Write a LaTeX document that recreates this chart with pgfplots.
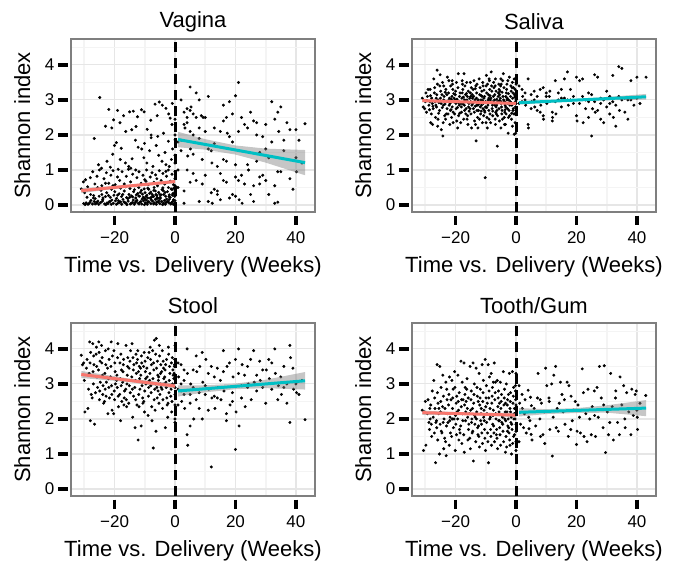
\documentclass[border=0pt]{standalone}
\usepackage{fontspec}
\setmainfont{Liberation Sans}
\usepackage{pgfplots}
\pgfplotsset{compat=1.18}

\definecolor{fitred}{HTML}{F8766D}
\definecolor{fitteal}{HTML}{00BFC4}
\definecolor{gridmaj}{HTML}{E6E6E6}
\definecolor{gridmin}{HTML}{F4F4F4}
\definecolor{border}{HTML}{7F7F7F}

\pgfplotsset{
  panel/.style={
    scale only axis, width=244pt, height=173pt,
    xmin=-34.4, xmax=46.3, ymin=-0.2, ymax=4.74,
    clip mode=individual,
    axis line style={draw=border, line width=1.1pt},
    xtick={-20,0,20,40}, xticklabels={−20,0,20,40},
    ytick={0,1,2,3,4}, yticklabels={0,1,2,3,4},
    minor xtick={-30,-10,10,30}, minor ytick={0.5,1.5,2.5,3.5,4.5},
    grid=both,
    major grid style={draw=gridmaj, line width=1.1pt},
    minor grid style={draw=gridmin, line width=1.8pt},
    tick align=inside, major tick length=0pt, minor tick length=0pt,
    xtick pos=bottom, ytick pos=left,
    every tick/.style={draw=none},
    /pgf/number format/assume math mode=true,
    tick label style={font=\fontsize{17}{19}\selectfont, inner sep=0pt},
    xticklabel style={anchor=north, yshift=-19.5pt},
    yticklabel style={anchor=east, xshift=-16.5pt},
    label style={font=\fontsize{22}{26}\selectfont},
    xlabel={Time vs. Delivery (Weeks)},
    ylabel={Shannon index},
    xlabel style={at={(axis description cs:0.5,-0.315)}, anchor=center},
    ylabel style={at={(axis description cs:-0.20,0.5)}, anchor=center},
    title style={font=\fontsize{22}{26}\selectfont, at={(axis description cs:0.5,1.065)}, anchor=center},
    % ggplot-style bold ticks, set slightly away from the panel border
    after end axis/.append code={
      \foreach \tk in {-20,0,20,40} {
        \draw[black, line width=3.8pt, line cap=butt] ([yshift=-3.5pt]axis cs:\tk,-0.2) -- ++(0,-9.5pt);
      }
      \foreach \tk in {0,1,2,3,4} {
        \draw[black, line width=3.8pt, line cap=butt] ([xshift=-3.5pt]axis cs:-34.4,\tk) -- ++(-9.5pt,0);
      }
    },
  },
  pts/.style={only marks, mark=*, mark size=1.3pt, black},
  band/.style={fill=gray, fill opacity=0.45, draw=none, forget plot},
  fitpre/.style={fitred, line width=3pt},
  fitpost/.style={fitteal, line width=3pt},
  vline/.style={black, line width=3pt, dash pattern=on 10pt off 6pt},
}

\begin{document}
\begin{tikzpicture}
\useasboundingbox (0,0) rectangle (680pt,-560pt);

% ---------------- Vagina ----------------
\begin{axis}[panel, at={(71pt,-212pt)}, anchor=south west, title={Vagina}]
\addplot[pts] coordinates {
(-30.2,0.04) (-29.4,0.06) (-28.8,0.02) (-28.1,0.08) (-27.3,0.03) (-26.7,0.1) (-26.0,0.05) (-25.2,0.02) (-24.6,0.07) (-24.0,0.11)
(-23.3,0.03) (-22.5,0.06) (-21.8,0.09) (-21.1,0.02) (-20.4,0.05) (-19.7,0.12) (-19.0,0.04) (-18.3,0.07) (-17.6,0.02) (-16.9,0.09)
(-16.2,0.05) (-15.5,0.11) (-14.8,0.03) (-14.1,0.07) (-13.5,0.02) (-12.9,0.1) (-12.2,0.05) (-11.6,0.08) (-11.0,0.03) (-10.4,0.12)
(-9.8,0.06) (-9.2,0.02) (-8.6,0.09) (-8.0,0.04) (-7.4,0.11) (-6.8,0.06) (-6.2,0.02) (-5.6,0.08) (-5.0,0.04) (-4.4,0.1)
(-3.8,0.05) (-3.2,0.02) (-2.6,0.09) (-2.0,0.06) (-1.4,0.03) (-0.8,0.1) (-0.2,0.05) (0,0.12) (-27.8,0.13) (-23.9,0.15)
(-20.9,0.14) (-17.2,0.16) (-13.8,0.14) (-10.9,0.17) (-7.9,0.15) (-4.9,0.18) (-1.9,0.16) (-15.9,0.01) (-9.5,0.14) (-3.5,0.13)
(-29.7,0.01) (-26.4,0.03) (-22.9,0.01) (-19.4,0.02) (-16.6,0.07) (-13.2,0.06) (-10.1,0.01) (-7.1,0.03) (-4.1,0.01) (-1.1,0.07)
(-25.5,0.11) (-21.5,0.1) (-18.7,0.12) (-12.6,0.13) (-8.9,0.1) (-5.3,0.12) (-2.3,0.11) (-0.5,0.15) (-6.5,0.16) (-11.3,0.1)
(-28.5,0.04) (-25.8,0.08) (-22.2,0.04) (-18.0,0.09) (-14.5,0.05) (-11.9,0.03) (-9.0,0.07) (-6.0,0.09) (-3.0,0.07) (-0.6,0.02)
(-27.0,0.2) (-23.0,0.24) (-19.0,0.28) (-15.0,0.22) (-12.0,0.26) (-9.0,0.2) (-7.8,0.22) (-5.0,0.3) (-2.0,0.24) (-0.3,0.32)
(-13.4,0.44) (-10.2,0.46) (-7.0,0.42) (-3.9,0.41) (-1.0,0.44) (0,0.55) (-16.3,0.52) (-20.5,0.55) (-25.6,0.5) (-29.9,0.35)
(-29.1,0.22) (-27.9,0.3) (-26.4,0.18) (-25.1,0.25) (-23.8,0.2) (-22.6,0.35) (-21.4,0.22) (-20.2,0.28) (-19.3,0.19) (-18.5,0.32)
(-17.7,0.24) (-16.8,0.4) (-16.0,0.21) (-15.2,0.3) (-14.4,0.26) (-13.7,0.38) (-13.0,0.2) (-12.3,0.33) (-11.7,0.25) (-11.1,0.42)
(-10.5,0.22) (-9.9,0.35) (-9.3,0.28) (-8.7,0.45) (-8.2,0.2) (-7.6,0.31) (-7.1,0.24) (-6.5,0.4) (-6.0,0.27) (-5.4,0.36)
(-4.9,0.22) (-4.3,0.44) (-3.7,0.3) (-3.1,0.25) (-2.5,0.38) (-1.9,0.29) (-1.3,0.46) (-0.7,0.33) (-0.1,0.25) (0,0.4)
(-24.5,0.42) (-21.0,0.45) (-18.0,0.48) (-14.9,0.47) (-12.0,0.5) (-9.0,0.48) (-6.9,0.5) (-4.0,0.49) (-2.2,0.5) (-0.4,0.48)
(-19.9,0.38) (-15.6,0.18) (-10.0,0.18) (-5.7,0.19) (-2.8,0.17) (-8.0,0.37) (-11.5,0.36) (-26.9,0.27) (-6.3,0.3)
(-14.0,0.23) (-12.8,0.29) (-10.8,0.31) (-9.6,0.24) (-8.4,0.33) (-7.3,0.27) (-5.9,0.21) (-4.6,0.29) (-3.3,0.36) (-1.6,0.22)
(-0.9,0.28) (-17.3,0.3) (-22.0,0.27) (-24.2,0.3)
(-31.0,0.46) (-30.3,0.66) (-29.6,0.72) (-28.9,0.52) (-28.0,0.78) (-27.2,0.95) (-26.5,0.6) (-25.8,0.82) (-25.0,1.0) (-24.2,0.55)
(-23.5,0.75) (-22.7,0.92) (-21.9,0.62) (-21.2,0.85) (-20.5,0.98) (-19.8,0.58) (-19.0,0.8) (-18.3,0.7) (-17.5,0.95) (-16.8,0.6)
(-16.1,0.82) (-15.4,1.02) (-14.7,0.66) (-14.0,0.88) (-13.3,0.55) (-12.6,0.78) (-11.9,0.95) (-11.2,0.62) (-10.6,0.85) (-10.0,0.72)
(-9.4,1.0) (-8.8,0.58) (-8.2,0.8) (-7.6,0.92) (-7.0,0.65) (-6.4,0.86) (-5.8,0.55) (-5.2,0.98) (-4.6,0.7) (-4.0,0.9)
(-3.4,0.6) (-2.8,0.82) (-2.2,1.0) (-1.6,0.68) (-1.0,0.88) (-0.5,0.58) (0,0.75) (0,0.95) (-13.0,1.0) (-18.8,1.02)
(-23.0,0.62) (-9.6,0.68) (-6.0,0.75) (-3.0,0.96)
(-26.7,1.9) (-24.3,1.05) (-22.5,1.25) (-20.6,1.45) (-20.0,1.7) (-19.4,1.78) (-17.8,1.62) (-16.4,1.2) (-15.3,1.1) (-14.2,1.32)
(-13.1,1.85) (-12.2,1.65) (-11.0,1.6) (-10.3,1.35) (-9.3,1.2) (-8.4,1.55) (-7.3,1.1) (-6.2,1.7) (-5.4,1.42) (-4.3,1.25)
(-3.3,1.5) (-2.2,1.82) (-1.2,1.3) (0,1.42) (-21.4,1.08) (-18.1,1.3) (-7.9,1.92) (-5.7,1.96) (-3.0,1.15) (-0.8,1.6)
(0,1.86) (-1.9,1.1) (-10.1,1.76) (-25.3,1.15) (0,1.2) (-14.6,1.05)
(-24.9,3.07) (-23.0,2.25) (-21.9,2.73) (-20.3,2.43) (-19.0,2.7) (-18.2,2.35) (-16.3,2.1) (-15.0,2.66) (-13.8,2.68) (-12.9,2.24)
(-11.1,2.72) (-10.2,2.66) (-9.2,2.16) (-8.0,2.42) (-6.6,2.88) (-5.9,2.55) (-5.2,2.94) (-4.2,2.85) (-3.0,2.76) (-2.1,2.6)
(-1.0,2.3) (0,2.45) (-17.0,2.55) (-12.4,2.52) (-3.8,2.05) (-0.9,2.9) (-20.9,2.2) (-7.9,2.0) (-14.3,2.15) (0,2.0) (-1.6,2.48)
};
\addplot[pts] coordinates {
(2,3.0) (3,2.65) (4,2.5) (5,3.37) (5.3,2.8) (6,2.6) (7,3.2) (8,3.0) (8.7,2.55) (9.3,2.5)
(11,3.1) (10,2.1) (13,2.2) (16,2.85) (17,2.5) (18,2.95) (20,3.12) (21,3.5) (22,2.5) (23,2.3)
(24,2.2) (25,2.65) (26,2.4) (27,2.35) (29,1.95) (32,2.95) (33,2.45) (34,2.65) (35,2.8) (34.3,2.1)
(36,1.85) (38,2.15) (40,2.15) (43,2.32) (40,1.35) (40.2,0.95) (38,0.75) (39,0.45) (34,0.95) (33,0.05)
(34,0.08) (30,1.6) (31,0.3) (29,0.85) (28,0.6) (26,0.1) (25,0.3) (23,0.6) (22,0.85) (21,0.7)
(20,0.8) (22.2,0.05) (21.2,0.15) (19,0.3) (18,0.2) (17,0.65) (16,0.7) (15,0.15) (14,0.3) (13,0.45)
(12,0.35) (12.3,0.05) (11,0.1) (10,0.85) (9,0.6) (8,0.1) (7,0.7) (5,0.65) (4,1.0) (3,0.05)
(2,1.55) (4.2,1.4) (5.1,1.6) (6,1.45) (8,1.9) (9,1.3) (12,1.55) (12.2,1.2) (13,1.75) (14,0.4)
(16,1.3) (17,1.25) (18,1.95) (17.3,2.05) (19,1.8) (20,1.15) (24,1.15) (24.3,1.0) (27,1.25) (28,0.8)
(30,0.7) (33,0.55) (35,0.95) (36,1.55) (31,1.35) (2,1.85) (3,2.3) (4,2.35) (5,2.1) (6,2.0)
(3.3,2.2) (4,2.75) (5,2.7) (1,1.0) (1,0.5) (1,1.8) (7,2.5) (8,2.2) (10,2.5) (15,2.1)
(16,2.4) (19,2.6) (21,2.1) (27,2.0) (28,1.5) (30,2.3) (32,1.8) (37,2.35) (42,1.2) (41,1.85)
(15,0.9) (11,1.6) (6,0.9) (3,0.4) (14,1.1) (26,0.55) (20,0.25)
};
\addplot[band] coordinates {(-31,0.34) (-20,0.462) (-12,0.534) (-5,0.588) (0,0.62) (0,0.72) (-5,0.668) (-12,0.604) (-20,0.542) (-31,0.48)};
\addplot[band] coordinates {(1,1.65) (10,1.58) (20,1.44) (30,1.21) (43,0.85) (43,1.57) (30,1.61) (20,1.70) (10,1.88) (1,2.09)};
\addplot[fitpre] coordinates {(-31,0.41) (0,0.67)};
\addplot[fitpost] coordinates {(1,1.87) (43,1.21)};
\addplot[vline] coordinates {(0,-0.2) (0,4.74)};
\end{axis}

% ---------------- Saliva ----------------
\begin{axis}[panel, at={(412pt,-212pt)}, anchor=south west, title={Saliva}]
\addplot[pts] coordinates {
(-31.0,3.05) (-30.7,2.8) (-30.2,2.75) (-29.8,3.2) (-30.0,2.95) (-29.1,3.3) (-28.8,2.85) (-29.3,3.1) (-28.6,2.72)
(-28.2,2.35) (-27.9,3.05) (-28.4,3.3) (-27.7,2.9) (-28.0,2.6) (-27.2,3.6) (-26.8,2.95) (-27.0,3.2) (-26.6,2.5) (-27.4,2.75) (-26.9,3.35)
(-26.1,3.85) (-25.8,3.0) (-26.3,2.8) (-25.9,2.25) (-26.0,3.45) (-25.6,2.62) (-26.2,3.15)
(-25.2,3.4) (-24.8,2.9) (-25.0,3.05) (-24.7,2.15) (-25.3,2.7) (-24.9,3.25) (-25.1,3.72)
(-24.2,1.97) (-23.8,3.1) (-24.0,2.85) (-23.6,2.55) (-24.3,3.5) (-23.9,3.0) (-24.1,2.35)
(-23.2,3.3) (-22.8,2.75) (-23.0,2.95) (-22.7,3.65) (-23.3,2.45) (-22.9,3.15) (-23.1,2.6)
(-22.2,3.55) (-21.8,2.9) (-22.0,3.05) (-21.7,2.7) (-22.3,3.2) (-21.9,2.3) (-22.1,2.85) (-21.6,3.4)
(-21.2,3.1) (-20.8,2.65) (-21.0,3.45) (-20.7,2.95) (-21.3,2.5) (-20.9,3.3) (-21.1,2.8)
(-20.2,3.0) (-19.8,2.75) (-20.0,3.25) (-19.7,3.5) (-20.3,2.6) (-19.9,2.9) (-20.1,3.15) (-19.6,2.4)
(-19.2,3.35) (-18.8,2.85) (-19.0,2.55) (-18.7,3.1) (-19.3,2.2) (-18.9,2.95) (-19.1,3.75)
(-18.2,2.9) (-17.8,3.2) (-18.0,2.65) (-17.7,3.45) (-18.3,2.35) (-17.9,3.05) (-18.1,2.8) (-17.6,3.3)
(-17.2,3.75) (-16.8,2.95) (-17.0,2.7) (-16.7,3.15) (-17.3,2.45) (-16.9,3.4) (-17.1,2.85) (-16.6,2.6)
(-16.2,3.0) (-15.8,3.25) (-16.0,2.55) (-15.7,2.8) (-16.3,3.5) (-15.9,2.3) (-16.1,3.1) (-15.6,2.9)
(-15.2,2.75) (-14.8,3.35) (-15.0,2.95) (-14.7,2.2) (-15.3,3.05) (-14.9,2.6) (-15.1,3.2) (-14.6,2.85)
(-14.2,3.3) (-13.8,2.65) (-14.0,3.1) (-13.7,2.4) (-14.3,2.9) (-13.9,3.55) (-14.1,2.75) (-13.6,3.0)
(-13.2,1.83) (-12.8,2.95) (-13.0,3.2) (-12.7,2.5) (-13.3,3.4) (-12.9,2.7) (-13.1,3.05) (-12.6,2.85) (-13.4,2.3)
(-12.2,3.6) (-11.8,2.8) (-12.0,3.15) (-11.7,2.6) (-12.3,2.95) (-11.9,3.35) (-12.1,2.45) (-11.6,3.0) (-12.4,2.7)
(-11.2,3.1) (-10.8,2.9) (-11.0,3.5) (-10.7,2.55) (-11.3,3.25) (-10.9,2.75) (-11.1,2.35) (-10.6,3.05) (-11.4,2.85)
(-10.2,0.78) (-9.8,3.7) (-10.0,2.95) (-9.7,3.2) (-10.3,2.65) (-9.9,3.4) (-10.1,2.8) (-9.6,2.5) (-10.4,3.1) (-9.5,2.2)
(-9.2,3.0) (-8.8,3.55) (-9.0,2.7) (-8.7,3.3) (-9.3,2.9) (-8.9,2.45) (-9.1,3.15) (-8.6,2.6) (-9.4,3.45)
(-8.2,3.8) (-7.8,2.85) (-8.0,3.25) (-7.7,2.55) (-8.3,3.05) (-7.9,2.75) (-8.1,3.4) (-7.6,2.95) (-8.4,2.35)
(-7.2,2.9) (-6.8,3.6) (-7.0,3.15) (-6.7,2.65) (-7.3,3.35) (-6.9,2.45) (-7.1,3.0) (-6.6,2.8) (-7.4,3.5) (-6.5,2.6)
(-6.2,1.68) (-5.8,3.2) (-6.0,2.95) (-5.7,3.45) (-6.3,2.7) (-5.9,3.1) (-6.1,2.55) (-5.6,3.3) (-6.4,2.85) (-5.5,2.4)
(-5.2,3.05) (-4.8,2.8) (-5.0,3.6) (-4.7,2.6) (-5.3,3.25) (-4.9,2.9) (-5.1,3.4) (-4.6,2.7) (-5.4,3.15)
(-4.2,3.75) (-3.8,2.95) (-4.0,3.35) (-3.7,2.65) (-4.3,3.1) (-3.9,2.5) (-4.1,3.0) (-3.6,2.85) (-4.4,3.55) (-3.5,2.3)
(-3.2,3.2) (-2.8,2.75) (-3.0,3.45) (-2.7,2.9) (-3.3,2.6) (-2.9,3.05) (-3.1,3.3) (-2.6,2.05) (-3.4,2.8)
(-2.2,3.65) (-1.8,3.1) (-2.0,2.85) (-1.7,3.4) (-2.3,2.7) (-1.9,2.95) (-2.1,2.55) (-1.6,3.25) (-2.4,3.0)
(-1.2,3.5) (-0.8,2.9) (-1.0,3.2) (-0.7,2.6) (-1.3,3.35) (-0.9,2.75) (-1.1,3.05) (-0.6,2.02) (-1.4,2.85) (-0.5,3.15) (-1.5,2.45)
(0,3.45) (-0.2,3.1) (0,2.9) (-0.3,3.3) (0,2.7) (-0.1,2.05) (0,3.0) (-0.4,2.6) (0,3.2) (-0.2,2.8) (0,3.5) (-0.1,2.95)
(-23.5,2.88) (-21.4,3.02) (-19.4,2.78) (-17.4,3.08) (-15.4,2.92) (-13.5,2.82) (-11.5,3.12) (-9.3,2.85) (-7.5,3.1) (-5.5,2.98)
(-3.4,3.1) (-1.6,2.92) (-0.8,3.35) (-2.5,2.5) (-4.5,2.45) (-6.6,3.25) (-8.5,3.0) (-10.5,2.7) (-12.5,3.0) (-14.5,3.15)
(-16.5,2.75) (-18.5,3.2) (-20.5,3.05) (-22.5,2.6) (-24.5,3.15) (-26.5,2.85) (-28.5,2.95) (-0.3,2.35) (-0.6,3.6) (-5.0,2.2)
(-29.5,2.98) (-28.3,3.12) (-27.5,2.82) (-26.4,3.05) (-25.5,2.92) (-24.4,2.78) (-23.4,3.22) (-22.4,2.98) (-21.5,2.72) (-20.6,3.18)
(-19.5,3.02) (-18.6,2.62) (-17.5,2.88) (-16.4,3.18) (-15.5,2.68) (-14.4,3.05) (-13.5,3.32) (-12.4,2.88) (-11.5,2.68) (-10.6,3.28)
(-9.7,2.78) (-8.6,3.12) (-7.7,2.68) (-6.4,3.02) (-5.6,2.75) (-4.6,3.22) (-3.6,2.72) (-2.5,3.18) (-1.4,2.62) (-0.4,3.08)
(-9.0,3.05) (-7.0,2.85) (-5.0,2.95) (-3.0,3.0) (-1.0,2.7) (-11.0,2.98) (-13.0,2.85) (-15.0,3.1) (-17.0,3.0) (-19.0,2.92)
(-2.7,3.55) (-4.9,3.45) (-6.9,3.4) (-8.9,3.6) (-10.9,3.4) (-12.9,3.45) (-15.1,3.5) (-17.8,3.55) (-21.1,3.55) (-23.9,3.4)
(-1.2,2.25) (-3.8,2.3) (-6.8,2.3) (-9.9,2.35) (-12.6,2.2) (-16.2,2.45) (-20.8,2.35) (-25.8,2.45) (-27.6,2.3) (-29.6,2.65)
};
\addplot[pts] coordinates {
(1,3.4) (1,2.9) (2,3.3) (2.2,3.1) (2,2.95) (3,3.0) (3.2,2.85) (4,3.6) (4,2.3) (4.1,2.2)
(5,3.15) (5,2.75) (5.2,2.95) (6,3.0) (6.2,2.8) (7,3.1) (7,2.7) (8,3.3) (8.2,2.85) (8,2.65)
(9,3.35) (9,2.55) (9.1,2.45) (10,3.1) (10.2,2.9) (11,3.1) (11.2,3.25) (12,2.65) (12.1,2.5) (12,2.4)
(13,3.55) (13,2.95) (13.2,2.6) (14,3.2) (14,3.0) (15,3.3) (15,2.8) (16,3.6) (16,3.05) (17,3.8)
(17,3.0) (17.3,2.85) (18,3.3) (18,3.0) (19,2.9) (20,3.65) (20,2.55) (20.2,2.4) (21,3.55) (21,2.9)
(22,3.6) (22,3.1) (22.2,2.35) (23,3.0) (23,2.75) (24,2.95) (24,2.5) (25,3.15) (25,1.97) (25.3,2.75)
(26,3.72) (26,2.95) (26.2,2.65) (27,3.65) (27,2.7) (28,3.05) (28,2.45) (29,3.0) (29,2.35) (30,3.25)
(30,2.8) (31,3.1) (31,2.6) (32,3.7) (32,2.95) (32.2,2.5) (33,2.85) (33,2.25) (34,3.95) (34,3.1)
(34.2,2.7) (35,3.9) (35,3.0) (36,3.05) (36,2.65) (37,2.45) (38,3.55) (38,3.0) (39,2.85) (40,3.65)
(40,3.05) (41,2.9) (43,3.65) (3,3.2) (6,3.25) (10,3.2) (15,3.05) (19,3.1) (24,3.2) (28,2.9)
(31,2.9) (37,3.0)
};
\addplot[band] coordinates {(-31,2.94) (-15,2.92) (0,2.87) (0,2.93) (-15,2.96) (-31,3.02)};
\addplot[band] coordinates {(1,2.87) (20,2.97) (43,3.01) (43,3.17) (20,3.02) (1,2.97)};
\addplot[fitpre] coordinates {(-31,2.98) (0,2.90)};
\addplot[fitpost] coordinates {(1,2.92) (43,3.09)};
\addplot[vline] coordinates {(0,-0.2) (0,4.74)};
\end{axis}

% ---------------- Stool ----------------
\begin{axis}[panel, at={(71pt,-496pt)}, anchor=south west, title={Stool}]
\addplot[pts] coordinates {
(-31.0,3.82) (-30.6,3.55) (-30.2,3.6) (-29.8,2.2) (-30.0,3.1) (-29.1,3.7) (-28.8,2.3) (-29.3,3.45) (-28.6,2.85)
(-28.2,4.2) (-27.9,3.9) (-28.4,3.3) (-27.7,2.7) (-28.0,1.95) (-28.1,3.6)
(-27.2,4.15) (-26.8,3.55) (-27.0,3.0) (-26.6,1.85) (-27.4,2.6) (-26.9,3.8) (-27.1,3.35)
(-26.1,3.85) (-25.8,3.2) (-26.3,2.75) (-25.9,3.5) (-26.0,4.05) (-25.6,2.9)
(-25.2,4.2) (-24.8,3.65) (-25.0,2.55) (-24.7,3.05) (-25.3,3.4) (-24.9,2.8) (-25.1,3.9)
(-24.2,3.6) (-23.8,2.95) (-24.0,3.25) (-23.6,2.45) (-24.3,4.1) (-23.9,2.7) (-24.1,3.75)
(-23.2,3.3) (-22.8,2.65) (-23.0,3.95) (-22.7,3.05) (-23.3,2.5) (-22.9,3.55) (-23.1,2.85)
(-22.2,2.15) (-21.8,3.7) (-22.0,3.15) (-21.7,2.6) (-22.3,3.45) (-21.9,2.9) (-22.1,4.0)
(-21.2,3.5) (-20.8,2.25) (-21.0,2.95) (-20.7,3.8) (-21.3,3.2) (-20.9,2.7) (-21.1,4.2)
(-20.2,3.95) (-19.8,3.35) (-20.0,2.55) (-19.7,3.0) (-20.3,2.15) (-19.9,3.6) (-20.1,2.8)
(-19.2,3.25) (-18.8,2.65) (-19.0,3.75) (-18.7,2.35) (-19.3,3.1) (-18.9,4.15) (-19.1,2.9)
(-18.2,3.6) (-17.8,2.95) (-18.0,1.95) (-17.7,3.4) (-18.3,2.7) (-17.9,3.85) (-18.1,3.15) (-17.6,2.5)
(-17.2,3.35) (-16.8,2.6) (-17.0,3.7) (-16.7,2.8) (-17.3,3.05) (-16.9,2.4) (-17.1,3.55)
(-16.2,4.1) (-15.8,3.25) (-16.0,2.35) (-15.7,3.5) (-16.3,2.85) (-15.9,3.0) (-16.1,2.55) (-15.6,3.75)
(-15.2,3.45) (-14.8,2.75) (-15.0,3.1) (-14.7,3.95) (-15.3,2.45) (-14.9,3.65) (-15.1,2.95)
(-14.2,4.15) (-13.8,3.4) (-14.0,2.05) (-13.7,2.65) (-14.3,3.2) (-13.9,3.75) (-14.1,2.85) (-13.6,3.55)
(-13.2,1.75) (-12.8,3.3) (-13.0,2.55) (-12.7,3.6) (-13.3,2.9) (-12.9,3.85) (-13.1,3.1) (-12.6,2.4)
(-12.2,1.4) (-11.8,3.5) (-12.0,2.7) (-11.7,3.15) (-12.3,3.95) (-11.9,2.35) (-12.1,3.35) (-11.6,2.85) (-12.4,3.7)
(-11.2,1.8) (-10.8,3.05) (-11.0,3.6) (-10.7,2.6) (-11.3,3.25) (-10.9,2.95) (-11.1,3.8) (-10.6,2.45) (-11.4,3.45)
(-10.2,3.9) (-9.8,3.35) (-10.0,2.8) (-9.7,3.15) (-10.3,2.5) (-9.9,3.65) (-10.1,2.2) (-9.6,3.0) (-10.4,3.5)
(-9.2,3.2) (-8.8,2.65) (-9.0,3.75) (-8.7,2.9) (-9.3,3.45) (-8.9,2.1) (-9.1,3.05) (-8.6,3.9)
(-8.2,4.05) (-7.8,3.55) (-8.0,2.95) (-7.7,2.35) (-8.3,3.3) (-7.9,2.75) (-8.1,3.7) (-7.6,1.95) (-8.4,3.1)
(-7.2,1.17) (-6.8,4.25) (-7.0,3.4) (-6.7,2.85) (-7.3,3.15) (-6.9,2.55) (-7.1,3.6) (-6.6,2.25) (-7.4,3.95) (-6.5,3.0)
(-6.2,4.3) (-5.8,3.65) (-6.0,2.9) (-5.7,3.25) (-6.3,1.65) (-5.9,2.6) (-6.1,3.45) (-5.6,2.8) (-6.4,3.85) (-5.5,3.1)
(-5.2,4.1) (-4.8,3.3) (-5.0,2.7) (-4.7,3.55) (-5.3,2.45) (-4.9,3.0) (-5.1,3.8) (-4.6,2.9) (-5.4,3.2)
(-4.2,3.95) (-3.8,3.45) (-4.0,2.55) (-3.7,3.15) (-4.3,2.85) (-3.9,3.65) (-4.1,2.3) (-3.6,3.0) (-4.4,3.35)
(-3.2,1.75) (-2.8,3.7) (-3.0,3.05) (-2.7,2.6) (-3.3,3.4) (-2.9,2.9) (-3.1,3.55) (-2.6,2.4) (-3.4,3.2)
(-2.2,4.05) (-1.8,3.5) (-2.0,2.75) (-1.7,3.3) (-2.3,2.45) (-1.9,3.1) (-2.1,3.85) (-1.6,2.95) (-2.4,2.05)
(-1.2,3.6) (-0.8,3.0) (-1.0,2.5) (-0.7,3.4) (-1.3,2.85) (-0.9,3.75) (-1.1,2.2) (-0.6,3.25) (-1.4,2.65)
(0,4.1) (-0.2,3.5) (0,2.9) (-0.3,3.3) (0,2.4) (-0.1,3.7) (0,2.0) (-0.4,3.15) (0,2.7) (-0.2,3.55) (0,1.9)
};
\addplot[pts] coordinates {
(1,3.6) (1.2,3.2) (2,2.8) (2.2,2.5) (3,3.4) (3.2,2.3) (4,4.0) (4.1,3.3) (4,1.55) (4.2,1.25)
(5,2.45) (5.2,3.0) (5,1.8) (6,2.9) (6.2,2.0) (7,3.8) (7.2,3.35) (8,2.75) (8.2,3.5) (8,2.3)
(9,3.9) (9.2,3.05) (9,2.0) (10,2.7) (10.2,3.7) (11,3.3) (11.2,2.85) (12,0.63) (12.2,2.6) (12,3.5)
(13,3.2) (13.2,2.3) (14,3.45) (14.2,2.9) (15,3.1) (15.2,2.55) (16,3.95) (16.2,2.8) (17,2.15) (17.2,3.5)
(17,1.95) (18,3.6) (18.2,2.4) (19,2.75) (19.2,3.2) (20,1.13) (20.2,2.2) (20,3.7) (21,4.0) (21.2,1.8)
(21,3.3) (22,2.95) (22.2,3.55) (23,3.25) (23.2,2.35) (24,2.9) (24.2,3.0) (25,3.7) (25.2,2.55) (26,3.95)
(26.2,3.05) (27,3.25) (28,3.65) (28.2,3.1) (29,2.9) (30,2.45) (30.2,3.4) (31,3.7) (31.2,3.15) (32,2.85)
(33,4.0) (33.2,3.3) (34,2.55) (34.2,2.95) (35,3.2) (35.2,2.7) (36,2.9) (37,3.0) (38,4.1) (38.2,3.75)
(38,1.9) (39,3.45) (39.2,2.85) (40,3.0) (40.2,2.75) (41,2.7) (43,1.98) (42,3.1) (2,3.55) (3,2.7)
(6,3.4) (10,2.95) (14,2.6) (19,2.5) (24,3.5) (29,3.4) (36,3.5) (1,2.4) (1,2.85) (2,3.0)
(3,3.1) (5,2.7) (7,2.55) (11,2.25) (13,2.65) (16,3.35) (22,2.6) (27,2.8) (32,3.6) (37,2.45)
};
\addplot[band] coordinates {(-31,3.17) (-15,3.05) (0,2.87) (0,3.01) (-15,3.15) (-31,3.37)};
\addplot[band] coordinates {(1,2.64) (10,2.76) (20,2.85) (30,2.88) (43,2.84) (43,3.34) (30,3.12) (20,3.01) (10,2.96) (1,2.96)};
\addplot[fitpre] coordinates {(-31,3.27) (0,2.94)};
\addplot[fitpost] coordinates {(1,2.80) (43,3.09)};
\addplot[vline] coordinates {(0,-0.2) (0,4.74)};
\end{axis}

% ---------------- Tooth/Gum ----------------
\begin{axis}[panel, at={(412pt,-496pt)}, anchor=south west, title={Tooth/Gum}]
\addplot[pts] coordinates {
(-31.0,2.25) (-30.6,1.1) (-30.2,2.2) (-29.8,1.25) (-30.0,2.5) (-29.1,2.55) (-28.8,1.9) (-29.3,2.15) (-28.6,1.7)
(-28.2,2.4) (-27.9,1.5) (-28.4,2.0) (-27.7,2.8) (-28.0,1.85)
(-27.2,3.1) (-26.8,2.3) (-27.0,1.6) (-26.6,0.75) (-27.4,2.05) (-26.9,2.6)
(-26.1,3.55) (-25.8,2.45) (-26.3,1.95) (-25.9,1.4) (-26.0,2.75) (-25.6,2.15) (-26.2,1.75)
(-25.2,3.5) (-24.8,2.9) (-25.0,2.2) (-24.7,1.65) (-25.3,1.0) (-24.9,2.5) (-25.1,1.85)
(-24.2,3.25) (-23.8,2.0) (-24.0,2.65) (-23.6,1.45) (-24.3,2.35) (-23.9,1.15) (-24.1,1.9)
(-23.2,3.05) (-22.8,2.55) (-23.0,1.8) (-22.7,2.15) (-23.3,1.35) (-22.9,2.85) (-23.1,0.95)
(-22.2,2.7) (-21.8,2.05) (-22.0,3.2) (-21.7,1.6) (-22.3,2.4) (-21.9,1.95) (-22.1,1.25)
(-21.2,3.1) (-20.8,2.85) (-21.0,2.3) (-20.7,1.75) (-21.3,1.5) (-20.9,2.6) (-21.1,2.0)
(-20.2,2.9) (-19.8,2.45) (-20.0,2.1) (-19.7,1.55) (-20.3,3.35) (-19.9,1.85) (-20.1,1.1) (-19.6,2.65)
(-19.2,3.25) (-18.8,2.75) (-19.0,2.25) (-18.7,1.7) (-19.3,2.0) (-18.9,1.4) (-19.1,2.5)
(-18.2,3.65) (-17.8,3.05) (-18.0,2.55) (-17.7,2.15) (-18.3,1.8) (-17.9,1.3) (-18.1,2.35) (-17.6,1.95)
(-17.2,3.6) (-16.8,2.9) (-17.0,2.4) (-16.7,1.95) (-17.3,1.55) (-16.9,2.7) (-17.1,1.05) (-16.6,2.2)
(-16.2,3.15) (-15.8,2.6) (-16.0,2.05) (-15.7,1.7) (-16.3,2.85) (-15.9,1.4) (-16.1,2.3) (-15.6,1.85)
(-15.2,3.5) (-14.8,2.8) (-15.0,2.25) (-14.7,1.9) (-15.3,1.45) (-14.9,2.55) (-15.1,1.15) (-14.6,2.0)
(-14.2,3.6) (-13.8,3.0) (-14.0,2.45) (-13.7,2.1) (-14.3,1.65) (-13.9,2.7) (-14.1,0.8) (-13.6,1.85) (-14.4,2.3)
(-13.2,3.45) (-12.8,2.65) (-13.0,2.2) (-12.7,1.75) (-13.3,1.35) (-12.9,2.9) (-13.1,2.0) (-12.6,1.55)
(-12.2,3.3) (-11.8,2.85) (-12.0,2.4) (-11.7,1.95) (-12.3,1.5) (-11.9,2.6) (-12.1,1.2) (-11.6,2.15) (-12.4,1.8)
(-11.2,3.55) (-10.8,3.1) (-11.0,2.5) (-10.7,2.05) (-11.3,1.6) (-10.9,2.75) (-11.1,1.3) (-10.6,2.25) (-11.4,1.85)
(-10.2,3.7) (-9.8,2.95) (-10.0,2.35) (-9.7,1.9) (-10.3,1.45) (-9.9,2.6) (-10.1,1.1) (-9.6,2.15) (-10.4,1.7)
(-9.2,3.55) (-8.8,3.2) (-9.0,2.6) (-8.7,2.0) (-9.3,1.35) (-8.9,2.8) (-9.1,0.75) (-8.6,2.3) (-9.4,1.6)
(-8.2,3.3) (-7.8,2.9) (-8.0,2.45) (-7.7,1.85) (-8.3,1.5) (-7.9,2.65) (-8.1,1.25) (-7.6,2.1) (-8.4,1.7) (-7.5,3.05)
(-7.2,3.6) (-6.8,3.05) (-7.0,2.55) (-6.7,2.15) (-7.3,1.6) (-6.9,2.75) (-7.1,1.35) (-6.6,2.0) (-7.4,1.8)
(-6.2,3.1) (-5.8,2.8) (-6.0,2.35) (-5.7,1.95) (-6.3,1.45) (-5.9,2.6) (-6.1,1.15) (-5.6,2.2) (-6.4,1.7) (-5.5,2.45)
(-5.2,3.05) (-4.8,2.7) (-5.0,2.3) (-4.7,1.9) (-5.3,1.55) (-4.9,2.5) (-5.1,1.25) (-4.6,2.1) (-5.4,1.75)
(-4.2,3.35) (-3.8,2.85) (-4.0,2.4) (-3.7,2.0) (-4.3,1.65) (-3.9,2.6) (-4.1,1.35) (-3.6,2.2) (-4.4,1.85) (-3.5,1.05)
(-3.2,3.0) (-2.8,2.55) (-3.0,2.2) (-2.7,1.8) (-3.3,1.5) (-2.9,2.4) (-3.1,1.2) (-2.6,2.0) (-3.4,1.95) (-2.5,2.7)
(-2.2,3.3) (-1.8,2.75) (-2.0,2.3) (-1.7,1.9) (-2.3,1.6) (-1.9,2.5) (-2.1,1.4) (-1.6,2.05) (-2.4,1.75) (-1.5,1.0)
(-1.2,3.35) (-0.8,2.9) (-1.0,2.45) (-0.7,2.0) (-1.3,1.7) (-0.9,2.65) (-1.1,1.3) (-0.6,2.15) (-1.4,1.85) (-0.5,2.3)
(0,3.3) (-0.2,2.8) (0,2.4) (-0.3,2.0) (0,1.65) (-0.1,2.55) (0,1.35) (-0.4,2.15) (0,1.85) (-0.2,2.95) (0,1.1)
(-25.5,2.3) (-22.5,1.9) (-19.5,2.2) (-16.5,2.5) (-13.5,2.05) (-10.5,1.95) (-7.5,2.25) (-4.5,2.05) (-1.8,2.2) (-0.5,1.55)
(-24.5,1.6) (-21.5,2.55) (-18.5,1.6) (-15.5,2.15) (-12.5,2.5) (-9.5,2.45) (-6.5,1.55) (-3.5,2.45) (-2.0,1.25) (-0.8,1.5)
(-28.5,2.3) (-26.5,1.9) (-23.5,2.3) (-20.5,2.0) (-17.5,2.55) (-14.5,1.6) (-11.5,2.3) (-8.5,2.05) (-5.5,1.95) (-2.8,1.65)
};
\addplot[pts] coordinates {
(1.2,2.45) (1.5,1.85) (1.0,1.35) (2.1,2.3) (2.8,2.15) (3.4,1.6) (4.0,2.82) (4.2,2.05) (4.3,1.72) (4.8,2.62)
(5.1,2.38) (5.0,1.56) (5.3,1.4) (4.6,1.95) (7.3,3.3) (7.1,2.6) (7.9,2.0) (8.1,1.5) (8.0,2.55) (8.4,2.45)
(8.9,1.55) (9.3,2.2) (9.8,3.45) (10.2,2.95) (10.9,2.6) (11.2,1.7) (11.8,3.0) (12.0,0.94) (12.3,2.05) (12.5,3.25)
(13.1,3.5) (13.3,1.75) (13.6,2.3) (14.0,1.65) (14.7,3.05) (15.2,2.7) (15.6,2.2) (16.2,1.85) (16.9,3.05) (17.5,2.95)
(17.3,1.5) (18.2,2.65) (18.6,1.95) (18.1,1.7) (19.6,2.5) (20.2,1.65) (20.0,1.27) (20.5,2.4) (21.3,1.6) (21.9,3.43)
(22.3,2.75) (22.5,1.5) (23.1,2.15) (23.8,2.85) (24.4,2.0) (24.9,1.55) (25.2,2.35) (25.9,2.8) (26.3,1.5) (26.8,2.9)
(27.2,2.05) (27.6,3.5) (28.2,2.6) (28.8,1.75) (29.2,3.52) (29.6,1.04) (30.2,2.2) (30.6,1.55) (31.3,3.3) (31.8,2.35)
(32.2,1.4) (32.9,2.6) (33.6,1.9) (34.4,3.2) (34.2,1.55) (35.0,2.4) (35.6,2.95) (36.1,1.75) (36.6,2.75) (37.3,2.2)
(38.0,1.55) (38.3,2.85) (39.4,2.7) (40.0,2.25) (40.1,2.05) (40.2,1.7) (42.9,2.67) (39.8,2.8) (2.5,1.75) (3.0,2.55)
(6.0,2.3) (6.5,1.8) (9.5,1.3) (11.0,2.5) (14.3,2.45) (16.0,2.55) (19.0,2.25) (21.0,2.05) (23.5,1.35) (26.0,2.1)
(29.0,2.4) (31.0,1.9) (33.0,2.8) (36.0,2.0) (38.8,2.1) (41.0,2.45) (1.0,2.95) (2.0,2.7)
};
\addplot[band] coordinates {(-31,2.12) (-15,2.115) (0,2.05) (0,2.17) (-15,2.175) (-31,2.24)};
\addplot[band] coordinates {(1,2.07) (10,2.14) (20,2.17) (30,2.18) (43,2.08) (43,2.54) (30,2.39) (20,2.31) (10,2.28) (1,2.31)};
\addplot[fitpre] coordinates {(-31,2.18) (0,2.11)};
\addplot[fitpost] coordinates {(1,2.19) (43,2.31)};
\addplot[vline] coordinates {(0,-0.2) (0,4.74)};
\end{axis}
\end{tikzpicture}
\end{document}
